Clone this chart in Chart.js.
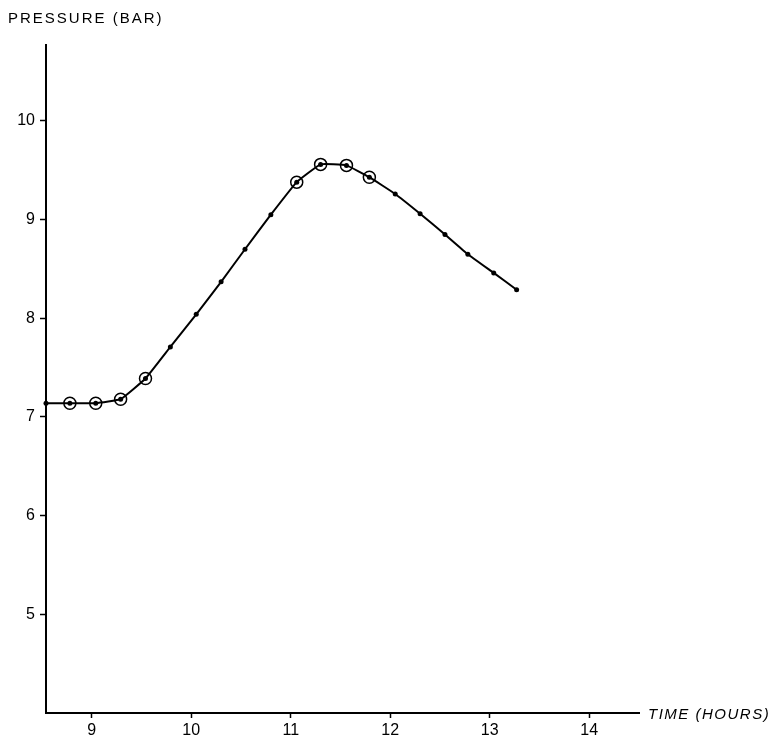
<!DOCTYPE html>
<html>
<head>
<meta charset="utf-8">
<script src="https://cdn.jsdelivr.net/npm/chart.js@4.4.1/dist/chart.umd.min.js"></script>
<style>
  html, body { margin: 0; padding: 0; background: #fff; }
</style>
</head>
<body>
<canvas id="pressure_chart" width="777" height="741"></canvas>
<script>
// time of reading (hours) and pressure (bar)
var timeH    = [8.54, 8.78, 9.04, 9.29, 9.54, 9.79, 10.05, 10.30, 10.54, 10.80,
                11.06, 11.30, 11.56, 11.79, 12.05, 12.30, 12.55, 12.78, 13.04, 13.27];
var pressure = [7.14, 7.14, 7.14, 7.18, 7.39, 7.71, 8.04, 8.37, 8.70, 9.05,
                9.38, 9.56, 9.55, 9.43, 9.26, 9.06, 8.85, 8.65, 8.46, 8.29];
// readings marked with a ring
var circled  = [false, true, true, true, true, false, false, false, false, false,
                true, true, true, true, false, false, false, false, false, false];

var xTicks = [9, 10, 11, 12, 13, 14];
var yTicks = [5, 6, 7, 8, 9, 10];

var yLabel = 'PRESSURE (BAR)';
var xLabel = 'TIME (HOURS)';

var linePoints = timeH.map(function(t, i) { return {x: t, y: pressure[i]}; });
var ringPoints = linePoints.filter(function(p, i) { return circled[i]; });

var tickFont = {family: '"Liberation Sans", Arial, sans-serif', size: 16};

// axis titles sit outside the plot, so draw them by hand
var axisTitles = {
    id: 'axisTitles',
    afterDraw: function(chart) {
        var ctx = chart.ctx;
        var area = chart.chartArea;
        ctx.save();
        ctx.fillStyle = '#000';
        ctx.textBaseline = 'middle';
        ctx.textAlign = 'left';
        ctx.font = '15px "Liberation Sans", Arial, sans-serif';
        ctx.letterSpacing = '2px';
        ctx.fillText(yLabel, 8, 19);
        ctx.font = 'italic 15px "Liberation Sans", Arial, sans-serif';
        ctx.letterSpacing = '1.5px';
        ctx.fillText(xLabel, area.right + 9, area.bottom + 2);
        ctx.restore();
    }
};

var ctx = document.getElementById('pressure_chart').getContext('2d');
new Chart(ctx, {
    type: 'scatter',
    data: {
        datasets: [
            {
                label: 'rings',
                data: ringPoints,
                showLine: false,
                pointRadius: 6,
                pointBorderWidth: 1.5,
                pointBorderColor: '#000',
                pointBackgroundColor: 'rgba(0,0,0,0)',
                clip: false
            },
            {
                label: 'pressure',
                data: linePoints,
                showLine: true,
                borderColor: '#000',
                borderWidth: 2,
                tension: 0.1,
                pointRadius: 2.5,
                pointBorderWidth: 0,
                pointBackgroundColor: '#000',
                clip: false
            }
        ]
    },
    options: {
        responsive: false,
        animation: false,
        layout: { padding: {top: 45, right: 138, bottom: 0, left: 0} },
        plugins: {
            legend: { display: false },
            tooltip: { enabled: false }
        },
        scales: {
            x: {
                type: 'linear',
                position: 'bottom',
                min: 8.54,
                max: 14.5,
                afterBuildTicks: function(scale) {
                    scale.ticks = xTicks.map(function(v) { return {value: v}; });
                },
                afterFit: function(scale) { scale.height = 28; },
                border: { display: true, color: '#000', width: 2 },
                grid: { drawOnChartArea: false, drawTicks: true, tickLength: 5, tickColor: '#000', tickWidth: 1.5 },
                ticks: { color: '#000', font: tickFont, padding: 3, maxRotation: 0 }
            },
            y: {
                min: 4.0,
                max: 10.77,
                afterBuildTicks: function(scale) {
                    scale.ticks = yTicks.map(function(v) { return {value: v}; });
                },
                afterFit: function(scale) { scale.width = 46; },
                border: { display: true, color: '#000', width: 2 },
                grid: { drawOnChartArea: false, drawTicks: true, tickLength: 6, tickColor: '#000', tickWidth: 1.5 },
                ticks: { color: '#000', font: tickFont, padding: 5 }
            }
        }
    },
    plugins: [axisTitles]
});
</script>
</body>
</html>
